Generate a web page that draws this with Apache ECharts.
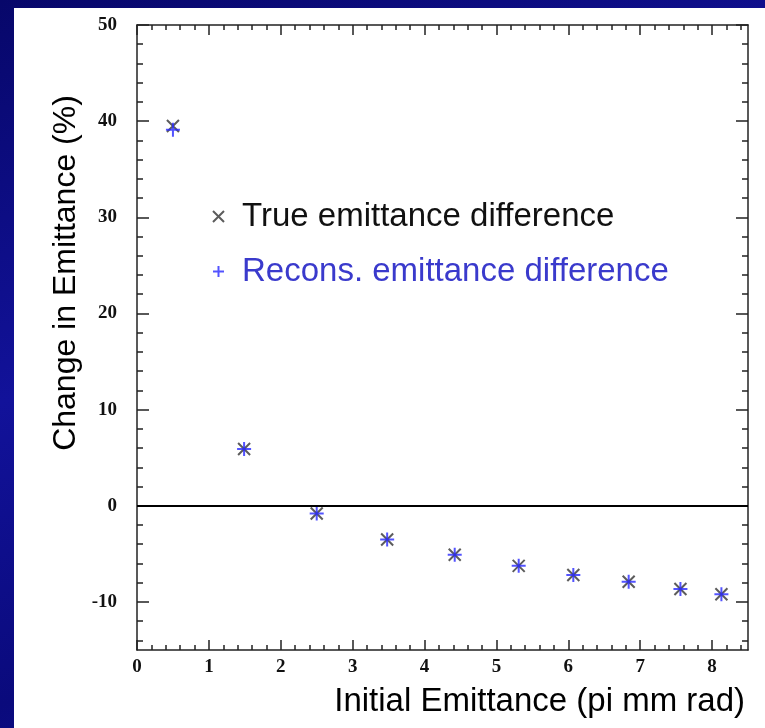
<!DOCTYPE html>
<html>
<head>
<meta charset="utf-8">
<script src="https://cdn.jsdelivr.net/npm/echarts@6/dist/echarts.min.js"></script>
<style>
html,body{margin:0;padding:0;width:765px;height:728px;overflow:hidden;}
body{background:linear-gradient(160deg,#07076a 0%,#12129a 40%,#0a0a7c 70%,#14149e 100%);}
#white{position:absolute;left:14px;top:8px;right:0;bottom:0;background:#ffffff;}
#chart{position:absolute;left:0;top:0;width:765px;height:728px;}
</style>
</head>
<body>
<div id="white"></div>
<div id="chart"></div>
<script>
// ---- data ----
const initialEmittance = [0.50, 1.49, 2.50, 3.48, 4.42, 5.31, 6.07, 6.84, 7.56, 8.13];
const trueDiff  = [39.5, 5.9, -0.8, -3.5, -5.1, -6.25, -7.2, -7.9, -8.65, -9.2];
const reconDiff = [39.1, 5.9, -0.8, -3.5, -5.1, -6.25, -7.2, -7.9, -8.65, -9.2];
const xTicks = [0, 1, 2, 3, 4, 5, 6, 7, 8];
const yTicks = [-10, 0, 10, 20, 30, 40, 50];
const seriesNames = ['True emittance difference', 'Recons. emittance difference'];

// minor tick positions (axis decoration)
const xMinor = []; for (let i = 0; i <= 42; i++) xMinor.push(+(i * 0.2).toFixed(2));
const yMinor = []; for (let v = -14; v <= 50; v += 2) yMinor.push(v);

const frame = { color: '#222', width: 1.5 };
const lblFont = { fontFamily: 'Liberation Serif', fontWeight: 'bold', fontSize: 19, color: '#111' };

function xAx(pos, vals, len, labels, line) {
  return {
    type: 'value', min: 0, max: 8.5, position: pos, gridIndex: 0,
    axisLine: { show: line, onZero: false, lineStyle: frame },
    axisTick: { show: true, inside: true, length: len, customValues: vals, lineStyle: frame },
    axisLabel: Object.assign({ show: labels, customValues: xTicks, margin: 8 }, lblFont),
    splitLine: { show: false }
  };
}
function yAx(pos, vals, len, labels, line) {
  return {
    type: 'value', min: -15, max: 50, position: pos, gridIndex: 0,
    axisLine: { show: line, onZero: false, lineStyle: frame },
    axisTick: { show: true, inside: true, length: len, customValues: vals, lineStyle: frame },
    axisLabel: Object.assign({ show: labels, customValues: yTicks, margin: 20 }, lblFont),
    splitLine: { show: false }
  };
}

const crossPath = 'path://M0,0L10,10M10,0L0,10';
const plusPath = 'path://M5,0L5,10M0,5L10,5';

const chart = echarts.init(document.getElementById('chart'), null, { renderer: 'canvas' });
chart.setOption({
  backgroundColor: 'transparent',
  animation: false,
  grid: { left: 137, right: 17, top: 25, bottom: 78 },
  xAxis: [
    xAx('bottom', xTicks, 10, true, true),
    xAx('bottom', xMinor, 5, false, false),
    xAx('top', xTicks, 10, false, true),
    xAx('top', xMinor, 5, false, false)
  ],
  yAxis: [
    yAx('left', yTicks, 12, true, true),
    yAx('left', yMinor, 6, false, false),
    yAx('right', yTicks, 12, false, true),
    yAx('right', yMinor, 6, false, false)
  ],
  legend: {
    orient: 'vertical', left: 207, top: 195, itemGap: 22,
    itemWidth: 11, itemHeight: 11,
    textStyle: { fontFamily: 'Liberation Sans', fontSize: 33, padding: [0, 0, 0, 13] },
    data: [
      { name: seriesNames[0], textStyle: { color: '#111' } },
      { name: seriesNames[1], textStyle: { color: '#3a3acc' } }
    ]
  },
  series: [
    {
      name: seriesNames[0], type: 'scatter', xAxisIndex: 0, yAxisIndex: 0,
      symbol: crossPath, symbolSize: 12,
      itemStyle: { color: 'rgba(0,0,0,0)', borderColor: '#333', borderWidth: 2 },
      data: initialEmittance.map((x, i) => [x, trueDiff[i]]),
      markLine: {
        silent: true, symbol: 'none', label: { show: false },
        lineStyle: { color: '#000', width: 2, type: 'solid' },
        data: [{ yAxis: 0 }]
      },
      z: 3
    },
    {
      name: seriesNames[1], type: 'scatter', xAxisIndex: 0, yAxisIndex: 0,
      symbol: plusPath, symbolSize: 14,
      itemStyle: { color: 'rgba(0,0,0,0)', borderColor: '#2828ff', borderWidth: 2 },
      data: initialEmittance.map((x, i) => [x, reconDiff[i]]),
      z: 4
    }
  ],
  graphic: [
    {
      type: 'text', x: 66, y: 273, rotation: Math.PI / 2,
      style: { text: 'Change in Emittance (%)', font: '32px "Liberation Sans"', fill: '#000',
               textAlign: 'center', textVerticalAlign: 'middle' }
    },
    {
      type: 'text', x: 745, y: 702,
      style: { text: 'Initial Emittance (pi mm rad)', font: '33px "Liberation Sans"', fill: '#000',
               textAlign: 'right', textVerticalAlign: 'middle' }
    }
  ]
});
</script>
</body>
</html>
